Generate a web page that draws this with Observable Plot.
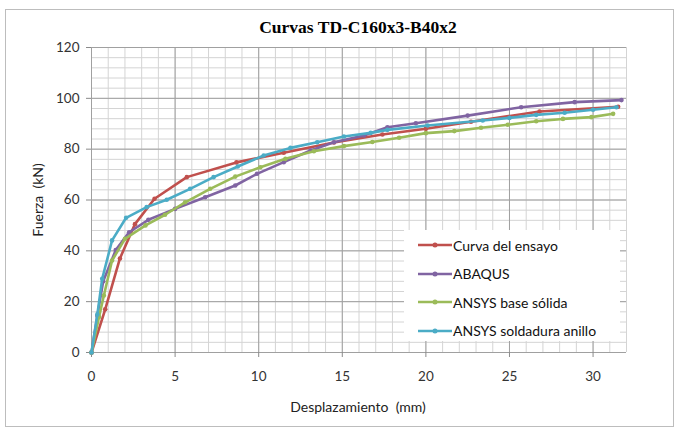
<!DOCTYPE html>
<html><head><meta charset="utf-8">
<script src="https://cdn.jsdelivr.net/npm/d3@7"></script>
<script src="https://cdn.jsdelivr.net/npm/@observablehq/plot@0.6"></script>
<style>
body{margin:0;background:#fff;}
#chart{position:relative;width:681px;height:430px;overflow:hidden;font-family:Lato,"Open Sans",sans-serif;}
#frame{position:absolute;left:5px;top:9px;width:669px;height:418px;border:1px solid #bdbdbd;box-sizing:border-box;}
#title{position:absolute;left:0;width:716px;top:17px;text-align:center;font-family:"Liberation Serif","Times New Roman",serif;font-weight:bold;font-size:17.5px;color:#000;}
#xlabel{position:absolute;left:0;width:716px;top:398px;text-align:center;font-size:14px;color:#222;white-space:pre;}
#ylabel{position:absolute;left:37px;top:200px;transform:translate(-50%,-50%) rotate(-90deg);white-space:pre;font-size:14px;color:#222;}
#legend{position:absolute;left:404px;top:230px;width:216px;height:111px;background:#fff;}
.item{position:absolute;left:14px;height:20px;display:flex;align-items:center;font-size:14px;color:#111;white-space:pre;}
.item svg{margin-right:1px;}
#plot{position:absolute;left:0;top:0;}
</style></head>
<body>
<div id="chart">
  <div id="frame"></div>
  <div id="plot"></div>
  <div id="title">Curvas TD-C160x3-B40x2</div>
  <div id="xlabel">Desplazamiento  (mm)</div>
  <div id="ylabel">Fuerza  (kN)</div>
  <div id="legend"></div>
</div>
<script>
const seriesNames = ["Curva del ensayo", "ABAQUS", "ANSYS base sólida", "ANSYS soldadura anillo"];
const seriesColors = ["#C0504D", "#8064A2", "#9BBB59", "#4BACC6"];

const ensayoX = [0, 0.82, 1.7, 2.6, 3.77, 5.7, 8.67, 11.5, 14.5, 17.4, 20.0, 22.7, 26.8, 31.5];
const ensayoY = [0, 17, 37, 50.5, 60.5, 69, 74.8, 78.6, 82.6, 85.8, 88.0, 90.8, 94.8, 96.7];

const abaqusX = [0, 0.35, 0.7, 1.45, 2.25, 3.4, 5.0, 6.8, 8.6, 9.9, 11.5, 13.1, 14.5, 16.3, 17.7, 19.4, 22.5, 25.7, 28.9, 31.7];
const abaqusY = [0, 14.5, 28, 40.3, 47.3, 52.2, 56.5, 61.1, 65.7, 70.3, 74.9, 79.5, 82.7, 85.4, 88.6, 90.2, 93.2, 96.5, 98.5, 99.3];

const baseX = [0, 0.45, 0.74, 1.23, 2.0, 3.23, 4.4, 5.6, 7.1, 8.6, 10.1, 11.6, 13.3, 15.1, 16.8, 18.4, 20.0, 21.7, 23.3, 24.9, 26.6, 28.2, 29.9, 31.2];
const baseY = [0, 14, 22.4, 36.2, 44.7, 50, 54.2, 59.1, 64.4, 69.2, 72.9, 76.2, 79.2, 81.2, 82.8, 84.5, 86.3, 87.1, 88.4, 89.6, 91.0, 91.9, 92.6, 93.9];

const anilloX = [0, 0.35, 0.64, 1.23, 2.07, 3.3, 4.5, 5.9, 7.3, 8.75, 10.3, 11.9, 13.5, 15.1, 16.7, 17.7, 20.1, 23.4, 25.0, 26.6, 28.3, 30.0, 31.4];
const anilloY = [0, 15, 29, 44.1, 53, 57.2, 60.1, 64.4, 69, 73.2, 77.5, 80.5, 82.7, 85, 86.4, 87.6, 89.3, 91.3, 92.3, 93.5, 94.3, 95.5, 96.5];

const xTicks = [0, 5, 10, 15, 20, 25, 30];
const yTicks = [0, 20, 40, 60, 80, 100, 120];

const seriesXY = [[ensayoX, ensayoY], [abaqusX, abaqusY], [baseX, baseY], [anilloX, anilloY]];
const data = [];
seriesXY.forEach(([xs, ys], i) => xs.forEach((x, j) => data.push({serie: seriesNames[i], x, y: ys[j]})));

const minorX = d3.range(0, 33, 1);
const minorY = d3.range(0, 121, 4);

const marks = [
  Plot.ruleX(minorX, {stroke: "#d4d4d4", strokeWidth: 1}),
  Plot.ruleY(minorY, {stroke: "#d4d4d4", strokeWidth: 1}),
  Plot.ruleX(xTicks, {stroke: "#a0a0a0", strokeWidth: 1}),
  Plot.ruleY(yTicks, {stroke: "#a0a0a0", strokeWidth: 1}),
  Plot.axisX({ticks: xTicks, tickSize: 5, tickPadding: 14, label: null, stroke: "#8a8a8a", fill: "#333", fontSize: 13.5}),
  Plot.axisY({ticks: yTicks, tickSize: 5, tickPadding: 7, label: null, stroke: "#8a8a8a", fill: "#333", fontSize: 13.5})
];
seriesNames.forEach((name, i) => {
  const d = data.filter(r => r.serie === name);
  marks.push(Plot.line(d, {x: "x", y: "y", stroke: seriesColors[i], strokeWidth: 2.6, curve: "linear"}));
  marks.push(Plot.dot(d, {x: "x", y: "y", fill: seriesColors[i], r: 2.3, stroke: "none"}));
});

const chart = Plot.plot({
  width: 681, height: 430,
  marginLeft: 91, marginRight: 55, marginTop: 47, marginBottom: 78,
  x: {domain: [0, 32]},
  y: {domain: [0, 120]},
  style: {fontFamily: "Lato, 'Open Sans', sans-serif", background: "transparent", overflow: "visible"},
  marks
});
document.getElementById("plot").appendChild(chart);

// legend
const legend = document.getElementById("legend");
seriesNames.forEach((name, i) => {
  const item = document.createElement("div");
  item.className = "item";
  item.style.top = (5 + i * 28.5) + "px";
  const ns = "http://www.w3.org/2000/svg";
  const sw = document.createElementNS(ns, "svg");
  sw.setAttribute("width", 34); sw.setAttribute("height", 8);
  const ln = document.createElementNS(ns, "line");
  ln.setAttribute("x1", 0); ln.setAttribute("x2", 34); ln.setAttribute("y1", 4); ln.setAttribute("y2", 4);
  ln.setAttribute("stroke", seriesColors[i]); ln.setAttribute("stroke-width", 2.6);
  const c = document.createElementNS(ns, "circle");
  c.setAttribute("cx", 17); c.setAttribute("cy", 4); c.setAttribute("r", 2.5); c.setAttribute("fill", seriesColors[i]);
  sw.appendChild(ln); sw.appendChild(c);
  item.appendChild(sw);
  item.appendChild(document.createTextNode(name));
  legend.appendChild(item);
});
</script>
</body></html>
